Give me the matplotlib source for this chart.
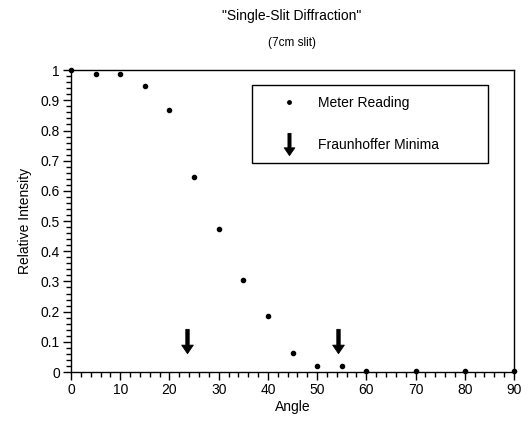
import matplotlib
matplotlib.use("Agg")
import matplotlib.pyplot as plt
import numpy as np
from matplotlib.path import Path
from matplotlib.lines import Line2D
from matplotlib.ticker import MultipleLocator

plt.rcParams["font.family"] = ["Liberation Sans", "DejaVu Sans"]

# meter readings
angle = [0, 5, 10, 15, 20, 25, 30, 35, 40, 45, 50, 55, 60, 70, 80, 90]
intensity = [1.0, 0.988, 0.988, 0.947, 0.868, 0.646, 0.473, 0.306, 0.185,
             0.063, 0.021, 0.021, 0.002, 0.002, 0.002, 0.002]

# predicted Fraunhoffer minima
minima_angle = [23.6, 54.3]
minima_level = [0.104, 0.104]

# thin-shaft down-arrow marker
arrow_verts = [(-0.07, 0.5), (0.07, 0.5), (0.07, -0.15), (0.24, -0.15),
               (0.0, -0.5), (-0.24, -0.15), (-0.07, -0.15), (-0.07, 0.5)]
arrow = Path(arrow_verts, closed=True)

fig = plt.figure(figsize=(5.28, 4.24), dpi=100)
ax = fig.add_axes([0.1345, 0.1226, 0.839, 0.712])

ax.plot(angle, intensity, linestyle="none", marker="o", markersize=3,
        color="black", clip_on=False, zorder=3)
ax.plot(minima_angle, minima_level, linestyle="none", marker=arrow,
        markersize=17.5, color="black", markeredgewidth=0.6, zorder=3)

ax.set_xlim(0, 90)
ax.set_ylim(0, 1)
ax.xaxis.set_major_locator(MultipleLocator(10))
ax.xaxis.set_minor_locator(MultipleLocator(2))
ax.yaxis.set_minor_locator(MultipleLocator(0.02))
ax.set_yticks(np.arange(0, 1.01, 0.1))
ax.set_yticklabels(["0", "0.1", "0.2", "0.3", "0.4", "0.5", "0.6", "0.7",
                    "0.8", "0.9", "1"])
ax.tick_params(which="major", direction="out", length=6, width=1,
               labelsize=10, pad=2)
ax.tick_params(which="minor", direction="out", length=3.5, width=1)
for s in ax.spines.values():
    s.set_linewidth(1)

ax.set_xlabel("Angle", fontsize=10, labelpad=2)
ax.set_ylabel("Relative Intensity", fontsize=10, labelpad=6)

fig.text(0.553, 0.962, '"Single-Slit Diffraction"', ha="center", va="center",
         fontsize=10)
fig.text(0.553, 0.898, "(7cm slit)", ha="center", va="center", fontsize=8.5)

handles = [
    Line2D([], [], linestyle="none", marker="o", markersize=2.5, color="black"),
    Line2D([], [], linestyle="none", marker=arrow, markersize=16, color="black",
           markeredgewidth=0.6),
]
leg = ax.legend(handles, ["Meter Reading", "Fraunhoffer Minima"],
                loc="upper left", bbox_to_anchor=(0.408, 0.95, 0.533, 0.0),
                mode="expand", fontsize=10, fancybox=False, framealpha=1,
                edgecolor="black", labelspacing=2.0, borderpad=0.8,
                handlelength=3.8, handletextpad=0.15, borderaxespad=0)
leg.get_frame().set_linewidth(1)

fig.savefig("out.png", dpi=100)
